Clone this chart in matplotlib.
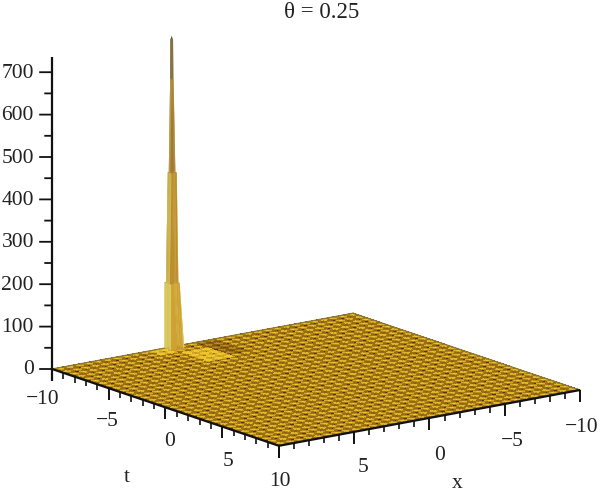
import matplotlib
matplotlib.use("Agg")
import matplotlib.pyplot as plt
import numpy as np
from matplotlib.colors import LinearSegmentedColormap
from mpl_toolkits.mplot3d import proj3d

# --- values ---
title = "θ = 0.25"
axis_range = [-10, 10]
z_range = [0, 750]
major_ticks = [-10, -5, 0, 5, 10]
minor_ticks = [-9, -8, -7, -6, -4, -3, -2, -1, 1, 2, 3, 4, 6, 7, 8, 9]
z_major = [0, 100, 200, 300, 400, 500, 600, 700]
z_minor = [50, 150, 250, 350, 450, 550, 650]
z_axis_top = 735
peak_t = -9.4
peak_x = 2.5
peak_reach_left = [0.27, 0.27, 0.15, 0.06, 0.05, 0.0]   # reach of the spike towards the left at each height
peak_reach_right = [0.60, 0.30, 0.19, 0.07, 0.05, 0.0]  # reach of the spike towards the right at each height
peak_heights = [5, 160, 420, 640, 735, 742]
cells_per_side = 32

# --- layout (pixels of the 600x496 picture) and style ---
t_labels = [("−10", 43, 400), ("−5", 107, 421), ("0", 170, 442), ("5", 228, 462), ("10", 280, 482)]
x_labels = [("−10", 582, 428), ("−5", 512, 441), ("0", 440, 455), ("5", 363, 468)]
serif = "Liberation Serif"
shade_cmap = LinearSegmentedColormap.from_list("gold", ["#5a3408", "#AD8018", "#F0C62E"])
tile = np.array([
    [0.00, 0.38, 0.48, 0.42, 0.30],
    [0.38, 0.80, 0.88, 0.60, 0.42],
    [0.48, 0.88, 1.00, 0.88, 0.60],
    [0.42, 0.60, 0.88, 0.80, 0.38],
    [0.30, 0.42, 0.60, 0.38, 0.34],
])
peak_left = ["#D8CC5E", "#CDB850", "#B89A3E", "#85703A", "#6e6e68", "#6e6e68"]
peak_right = ["#CFA032", "#BC8E2E", "#A37A30", "#7E6A38", "#5c5c58", "#5c5c58"]

W, H = 600, 496
fig = plt.figure(figsize=(W / 100, H / 100), dpi=100, facecolor="white")
ax = fig.add_axes([0, 0, 1, 1], projection="3d")
ax.set_proj_type("ortho")
ax.view_init(elev=14.5, azim=53.5)
ax.set_box_aspect((374, 381, 328))
ax.set_axis_off()
ax.patch.set_alpha(0)


def set_limits():
    ax.set_xlim(*axis_range)
    ax.set_ylim(*axis_range)
    ax.set_zlim(*z_range)


def to_px(x, t, z):
    px, py, _ = proj3d.proj_transform(x, t, z, ax.get_proj())
    return ax.transData.transform((px, py))


# Calibrate the frame so that the plot box lands where it does in the picture
set_limits()
fig.canvas.draw()
left, right = to_px(10, -10, 0), to_px(-10, 10, 0)
ax.set_box_aspect((374, 381, 328), zoom=528 / (right[0] - left[0]))
fig.canvas.draw()
left = to_px(10, -10, 0)
ax.set_position([(52 - left[0]) / W, ((H - 369) - left[1]) / H, 1, 1])
fig.canvas.draw()

# Flat sheet with the moire-like tile pattern of the original
sub = tile.shape[0]
fine = cells_per_side * sub
shade = np.tile(tile, (cells_per_side, cells_per_side))
shade[0 * sub:5 * sub, 15 * sub:17 * sub] *= 0.65
shade[2 * sub:6 * sub, 12 * sub:15 * sub] = np.clip(shade[2 * sub:6 * sub, 12 * sub:15 * sub] + 0.4, 0, 1)
shade[0 * sub:2 * sub, 10 * sub:12 * sub] = np.clip(shade[0 * sub:2 * sub, 10 * sub:12 * sub] + 0.4, 0, 1)
T, X = np.meshgrid(np.linspace(-10, 10, fine + 1), np.linspace(10, -10, fine + 1), indexing="ij")
ax.plot_surface(X, T, np.zeros_like(X), facecolors=shade_cmap(shade), rstride=1, cstride=1,
                shade=False, antialiased=False, linewidth=0, zorder=1)
ax.computed_zorder = False

# The peak: nodes run from the left-hand reach through the crest to the right-hand reach
off_t = np.array([-o for o in peak_reach_left] + peak_reach_right[-2::-1])
n = len(peak_heights) - 1
rings = np.array([[peak_heights[n - max(abs(i - n), abs(j - n))] for j in range(2 * n + 1)]
                  for i in range(2 * n + 1)], dtype=float)
PT, PX = np.meshgrid(peak_t + off_t, peak_x - off_t, indexing="ij")
colors = np.empty((2 * n, 2 * n, 4))
for i in range(2 * n):
    for j in range(2 * n):
        di, dj = i + 0.5 - n, j + 0.5 - n
        ring = n - 1 - int(max(abs(di), abs(dj)) - 0.5)
        table = peak_left if abs(dj) > abs(di) else peak_right
        colors[i, j] = matplotlib.colors.to_rgba(table[ring])
ax.plot_surface(PX, PT, rings, facecolors=colors, rstride=1, cstride=1, shade=False,
                antialiased=True, linewidth=0.2, edgecolor="none", zorder=3)

# Hand-made axes along the edges of the box
line = dict(color="#111111", solid_capstyle="butt", zorder=5)
ax.plot([10, 10], [-10, 10], [0, 0], lw=1.6, **line)
ax.plot([10, -10], [10, 10], [0, 0], lw=1.6, **line)
ax.plot([10, 10], [-10, -10], [-28, z_axis_top], lw=1.6, **line)
ax.plot([10, -10], [-10, -10], [0, 0], lw=0.9, color="#8a7a30", zorder=2)
ax.plot([-10, -10], [-10, 10], [0, 0], lw=0.9, color="#8a7a30", zorder=2)
for v in major_ticks:
    ax.plot([10, 10], [v, v], [0, -28], lw=1.4, **line)
    ax.plot([v, v], [10, 10], [0, -28], lw=1.4, **line)
for v in minor_ticks:
    ax.plot([10, 10], [v, v], [0, -14], lw=1.2, **line)
    ax.plot([v, v], [10, 10], [0, -14], lw=1.2, **line)
for z in z_major:
    ax.plot([10, 10 + 0.55], [-10, -10 - 0.40], [z, z], lw=1.3, **line)
for z in z_minor:
    ax.plot([10, 10 + 0.33], [-10, -10 - 0.24], [z, z], lw=1.3, **line)
set_limits()
for art in ax.get_children():
    art.set_clip_on(False)


def label(s, x, y, size=15.5, ha="center"):
    fig.text(x / W, 1 - y / H, s, family=serif, fontsize=size, ha=ha, va="center", color="#222222")


for z in z_major:
    y = to_px(10, -10, z)[1]
    label(str(z), 34, H - y + 1, ha="right")
for s, x, y in t_labels + x_labels:
    label(s, x, y)
label("t", 127, 478)
label("x", 457, 483)
label(title, 322, 12, size=16.5)

fig.savefig("out.png", dpi=100)
